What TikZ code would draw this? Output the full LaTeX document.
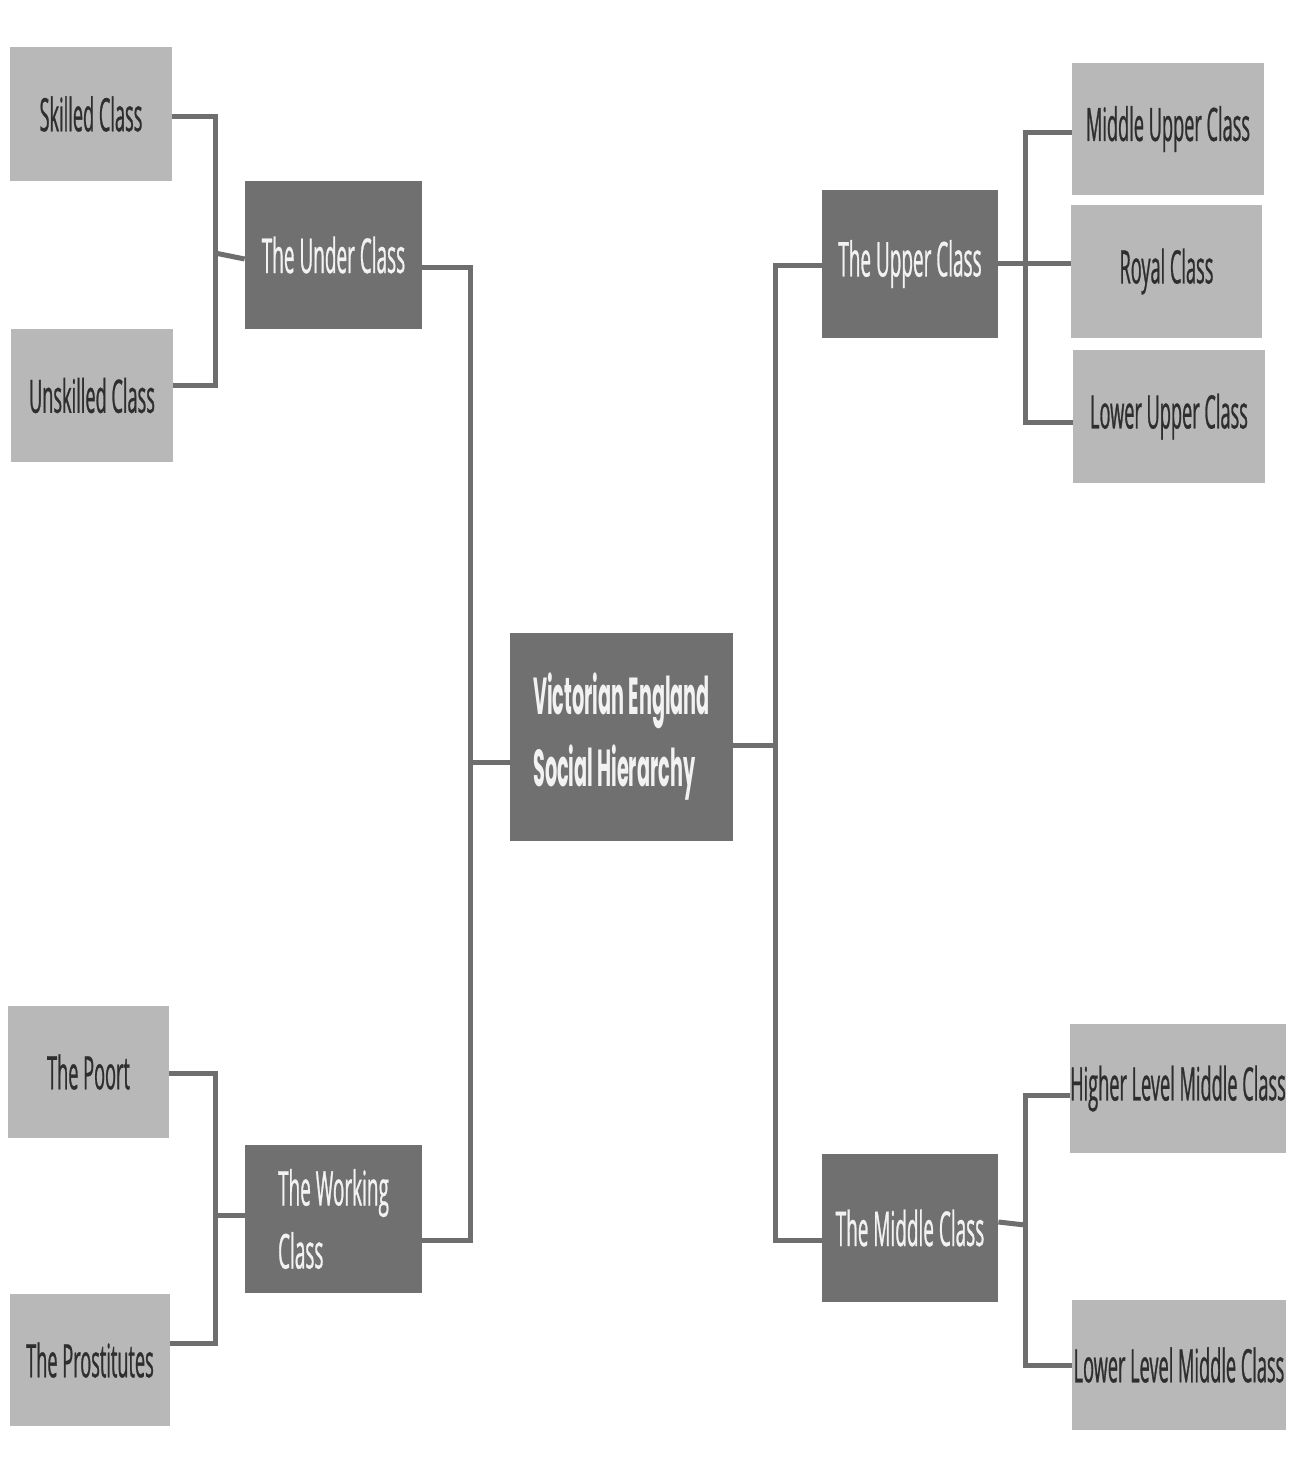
\documentclass[tikz,border=0pt]{standalone}
\usepackage{fontspec}
\setmainfont{Open Sans}
\newfontfamily\boxfont[FakeStretch=0.395,FakeBold=0.6]{Open Sans}
\newfontfamily\titlefont[FakeStretch=0.37]{Poppins}
\usetikzlibrary{calc}
\definecolor{lightbox}{HTML}{B8B8B8}
\definecolor{darkbox}{HTML}{707070}
\definecolor{linecol}{HTML}{6E6E6E}
\definecolor{darktext}{HTML}{2E2E2E}
\definecolor{whitetext}{HTML}{F2F2F2}
\tikzset{
  lbox/.style={fill=lightbox, inner sep=0pt, text=darktext, align=center,
    font=\boxfont\fontsize{23}{31}\selectfont},
  dbox/.style={fill=darkbox, inner sep=0pt, text=whitetext, align=center,
    font=\boxfont\fontsize{24}{31.5}\selectfont},
  tbox/.style={fill=darkbox, inner sep=0pt, text=whitetext, align=left,
    font=\titlefont\bfseries\fontsize{26}{36}\selectfont},
  conn/.style={draw=linecol, line width=2.5pt}
}
\begin{document}
\begin{tikzpicture}[x=0.5pt,y=-0.5pt]
\fill[white] (0,0) rectangle (1298,1457);
\useasboundingbox (0,0) rectangle (1298,1457);

% left upper
\node[lbox,minimum width=81pt,minimum height=67pt] (skilled) at (91,114) {Skilled Class};
\node[lbox,minimum width=81pt,minimum height=66.5pt] (unskilled) at (92,395.5) {Unskilled Class};
\node[dbox,minimum width=88.5pt,minimum height=74pt] (under) at (333.5,255) {The Under Class};

% right upper
\node[dbox,minimum width=88pt,minimum height=74pt] (upper) at (910,264) {The Upper Class};
\node[lbox,minimum width=96pt,minimum height=66pt] (midupper) at (1168,129) {Middle Upper Class};
\node[lbox,minimum width=95.5pt,minimum height=66.5pt] (royal) at (1166.5,271.5) {Royal Class};
\node[lbox,minimum width=96pt,minimum height=66.5pt] (lowupper) at (1169,416.5) {Lower Upper Class};

% centre
\node[tbox,minimum width=111.5pt,minimum height=104pt] (center) at (621.5,737) {Victorian England\\Social Hierarchy};

% left lower
\node[lbox,minimum width=80.5pt,minimum height=66pt] (poort) at (88.5,1072) {The Poort};
\node[lbox,minimum width=80pt,minimum height=66pt] (prost) at (90,1360) {The Prostitutes};
\node[dbox,align=left,minimum width=88.5pt,minimum height=74pt] (working) at (333.5,1219) {The Working\\Class};

% right lower
\node[dbox,minimum width=88pt,minimum height=74pt] (middle) at (910,1228) {The Middle Class};
\node[lbox,minimum width=107pt,minimum height=64.5pt] (higher) at (1178,1088.5) {Higher Level Middle Class};
\node[lbox,minimum width=107pt,minimum height=65pt] (lowerlvl) at (1179,1365) {Lower Level Middle Class};

% junctions
\coordinate (jUc) at (215,253);
\coordinate (jW) at (215,1215);
\coordinate (jL) at (470,762);
\coordinate (jR) at (775,745);
\coordinate (jUp) at (1025,263);
\coordinate (jM) at (1025,1225);

% connectors
\draw[conn] ($(skilled.east)+(0,2)$) -| (jUc) |- ($(unskilled.east)+(0,-10)$);
\draw[conn] (jUc) -- ($(under.west)+(0,4)$);

\draw[conn] ($(poort.east)+(0,1)$) -| (jW) |- ($(prost.east)+(0,-17)$);
\draw[conn] (jW) -- ($(working.west)+(0,-4)$);

\draw[conn] ($(under.east)+(0,12)$) -| (jL) |- ($(working.east)+(0,21)$);
\draw[conn] ($(center.west)+(0,25)$) -- (jL);

\draw[conn] ($(upper.west)+(0,1)$) -| (jR) |- ($(middle.west)+(0,12)$);
\draw[conn] ($(center.east)+(0,8)$) -- (jR);

\draw[conn] ($(midupper.west)+(0,3)$) -| (jUp) |- ($(lowupper.west)+(0,6)$);
\draw[conn] ($(upper.east)+(0,-1)$) -- ($(royal.west)+(0,-8.5)$);

\draw[conn] ($(higher.west)+(0,6.5)$) -| (jM) |- (lowerlvl.west);
\draw[conn] ($(middle.east)+(0,-6)$) -- (jM);
\end{tikzpicture}
\end{document}
